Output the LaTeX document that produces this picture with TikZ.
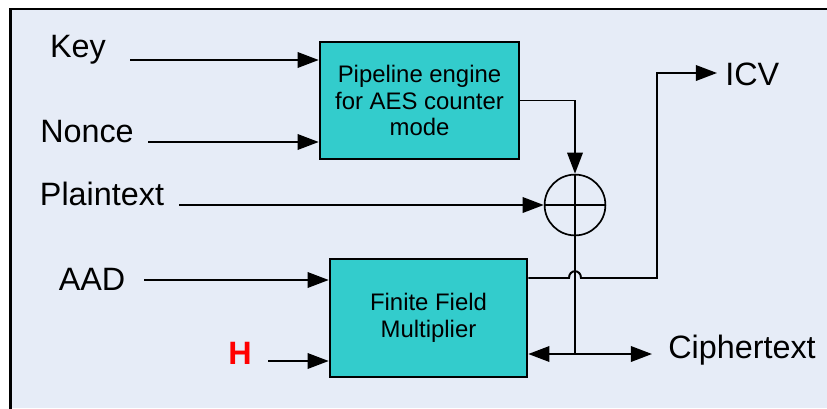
\documentclass[tikz,border=0pt]{standalone}
\usepackage{fontspec}
\setmainfont{Liberation Sans}
\usetikzlibrary{arrows.meta,positioning}
\definecolor{bgblue}{HTML}{E6ECF7}
\definecolor{blockteal}{HTML}{33CCCC}

\begin{document}
\begin{tikzpicture}[
  x=0.025cm,y=-0.025cm,
  block/.style={draw=black,line width=1.8pt,fill=blockteal,align=center,
    font=\fontsize{17}{19}\selectfont},
  lbl/.style={font=\fontsize{23}{26}\selectfont,inner sep=0pt},
  sig/.style={line width=1.4pt,-{Triangle[length=15pt,width=11pt]}},
  wire/.style={line width=1.4pt}
]
\useasboundingbox (0,0) rectangle (827,408);
% frame
\fill[bgblue] (10.5,9) rectangle (827,408);
\draw[line width=2.1pt] (10.5,420) -- (10.5,9) -- (840,9);

% blocks
\node[block,minimum width=4.975cm,minimum height=2.925cm] (aes) at (419.5,100.5)
  {Pipeline engine\\for AES counter\\mode};
\node[block,minimum width=4.925cm,minimum height=2.95cm] (ffm) at (428.5,318)
  {Finite Field\\Multiplier};
\node[circle,draw=black,line width=1.2pt,minimum size=1.52cm,inner sep=0pt] (xor) at (575,205) {};
\draw[line width=1.2pt] (xor.north) -- (xor.south) (xor.west) -- (xor.east);

% labels
\node[lbl] (key) at (78,50) {Key};
\node[lbl] (nonce) at (87,132) {Nonce};
\node[lbl] (plain) at (102,194) {Plaintext};
\node[lbl] (aad) at (92,279) {AAD};
\node[lbl,text=red,font=\fontsize{23}{26}\selectfont\bfseries] (h) at (240,353) {H};
\node[lbl,anchor=west] (icv) at (725,74) {ICV};
\node[lbl,anchor=west] (ct) at (668,350) {Ciphertext};

% inputs
\coordinate (keyin) at (130,60);
\coordinate (noncein) at (148,142);
\coordinate (plainin) at (179,205);
\coordinate (aadin) at (144,280);
\coordinate (hin) at (268,361);
\draw[sig] (keyin) -- (aes.west |- keyin);
\draw[sig] (noncein) -- (aes.west |- noncein);
\draw[sig] (plainin) -- (xor.west);
\draw[sig] (aadin) -- (ffm.west |- aadin);
\draw[sig] (hin) -- (ffm.west |- hin);

% keystream into xor
\draw[sig] (aes.east) -| (xor.north);

% ciphertext
\coordinate (junc) at (575,354);
\coordinate (ctout) at (652,354);
\draw[wire] (xor.south) -- (junc);
\draw[sig] (junc) -- (ffm.east |- junc);
\draw[sig] (junc) -- (ctout);

% tag out, jumping over the ciphertext line
\coordinate (ffmout) at (527,278);
\coordinate (icvout) at (717,73);
\draw[sig] (ffm.east |- ffmout) -- (569,278)
  .. controls (569,269) and (581,269) .. (581,278)
  -- (657,278) |- (icvout);
\end{tikzpicture}
\end{document}
